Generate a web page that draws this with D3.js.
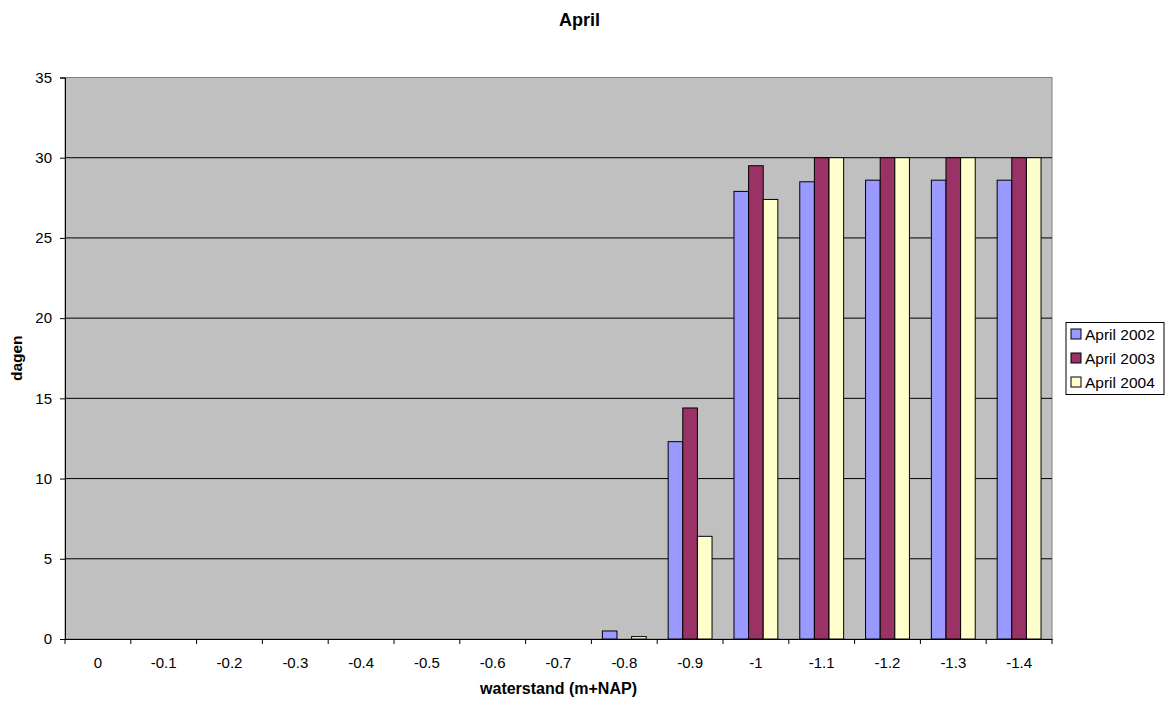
<!DOCTYPE html>
<html>
<head>
<meta charset="utf-8">
<script src="https://cdn.jsdelivr.net/npm/d3@7"></script>
<style>
  body { margin: 0; background: #fff; }
  text { font-family: "Liberation Sans", Arial, sans-serif; }
</style>
</head>
<body>
<div id="chart"></div>
<script>
// categories (waterstand) and series values (dagen)
var categories = ["0", "-0.1", "-0.2", "-0.3", "-0.4", "-0.5", "-0.6", "-0.7", "-0.8", "-0.9", "-1", "-1.1", "-1.2", "-1.3", "-1.4"];
var april2002 = [0, 0, 0, 0, 0, 0, 0, 0, 0.5, 12.3, 27.9, 28.5, 28.6, 28.6, 28.6];
var april2003 = [0, 0, 0, 0, 0, 0, 0, 0, 0, 14.4, 29.5, 30, 30, 30, 30];
var april2004 = [0, 0, 0, 0, 0, 0, 0, 0, 0.15, 6.4, 27.4, 30, 30, 30, 30];
var seriesNames = ["April 2002", "April 2003", "April 2004"];
var seriesColors = ["#9999FF", "#993366", "#FFFFCC"];
var yTicks = [0, 5, 10, 15, 20, 25, 30, 35];

function drawChart() {
  var W = 1171, H = 702;
  var margin = { top: 77.5, right: 119, bottom: 63, left: 65 };
  var width = W - margin.left - margin.right;
  var height = H - margin.top - margin.bottom;

  var svg = d3.select("#chart").append("svg")
    .attr("width", W)
    .attr("height", H);

  var g = svg.append("g")
    .attr("transform", "translate(" + margin.left + "," + margin.top + ")");

  var x = d3.scaleBand().domain(categories).range([0, width]);
  var barW = x.bandwidth() / 4.5;   // gap width 150%
  var y = d3.scaleLinear().domain([0, 35]).range([height, 0]);

  // plot background
  g.append("rect")
    .attr("width", width)
    .attr("height", height)
    .attr("fill", "#C0C0C0")
    .attr("stroke", "#808080")
    .attr("stroke-width", 1);

  // gridlines
  g.selectAll(".grid")
    .data(yTicks.filter(function(d) { return d > 0 && d < 35; }))
    .enter().append("line")
    .attr("x1", 0).attr("x2", width)
    .attr("y1", function(d) { return y(d); })
    .attr("y2", function(d) { return y(d); })
    .attr("stroke", "#000")
    .attr("stroke-width", 1);

  // bars
  var allSeries = [april2002, april2003, april2004];
  allSeries.forEach(function(vals, si) {
    g.selectAll(".bar" + si)
      .data(vals.map(function(v, i) { return { cat: categories[i], v: v }; })
        .filter(function(d) { return d.v > 0; }))
      .enter().append("rect")
      .attr("x", function(d) { return x(d.cat) + barW * 0.75 + si * barW; })
      .attr("y", function(d) { return y(d.v); })
      .attr("width", barW)
      .attr("height", function(d) { return height - y(d.v); })
      .attr("fill", seriesColors[si])
      .attr("stroke", "#000")
      .attr("stroke-width", 1);
  });

  // y axis
  var yAxis = g.append("g")
    .call(d3.axisLeft(y).tickValues(yTicks).tickSize(5).tickPadding(8));
  yAxis.select(".domain").attr("stroke", "#000");
  yAxis.selectAll("text").style("font-size", "15px").attr("fill", "#000");

  // x axis
  var xAxis = g.append("g")
    .attr("transform", "translate(0," + height + ")")
    .call(d3.axisBottom(x).tickSize(0).tickPadding(18));
  xAxis.select(".domain").attr("stroke", "#000");
  xAxis.selectAll("text").style("font-size", "15px").attr("fill", "#000");
  xAxis.selectAll(".sep")
    .data(categories.concat([null]))
    .enter().append("line")
    .attr("x1", function(d, i) { return i * x.step(); })
    .attr("x2", function(d, i) { return i * x.step(); })
    .attr("y1", 0).attr("y2", 5)
    .attr("stroke", "#000");

  // title
  svg.append("text")
    .attr("x", W / 2 - 6)
    .attr("y", 26)
    .attr("text-anchor", "middle")
    .style("font-size", "18px")
    .style("font-weight", "bold")
    .text("April");

  // axis labels
  svg.append("text")
    .attr("x", margin.left + width / 2)
    .attr("y", 694)
    .attr("text-anchor", "middle")
    .style("font-size", "16px")
    .style("font-weight", "bold")
    .text("waterstand (m+NAP)");

  svg.append("text")
    .attr("transform", "translate(22," + (margin.top + height / 2) + ") rotate(-90)")
    .attr("text-anchor", "middle")
    .style("font-size", "15.5px")
    .style("font-weight", "bold")
    .text("dagen");

  // legend
  var lg = svg.append("g").attr("transform", "translate(1066,322.5)");
  lg.append("rect")
    .attr("width", 98)
    .attr("height", 72)
    .attr("fill", "#fff")
    .attr("stroke", "#000");
  var items = lg.selectAll(".item")
    .data(seriesNames)
    .enter().append("g")
    .attr("transform", function(d, i) { return "translate(5," + (12 + i * 24) + ")"; });
  items.append("rect")
    .attr("x", 0).attr("y", -5.5)
    .attr("width", 10).attr("height", 10)
    .attr("fill", function(d, i) { return seriesColors[i]; })
    .attr("stroke", "#000");
  items.append("text")
    .attr("x", 14)
    .attr("y", 0)
    .attr("dy", "0.35em")
    .style("font-size", "15.5px")
    .text(function(d) { return d; });
}

window.onload = drawChart;
</script>
</body>
</html>
